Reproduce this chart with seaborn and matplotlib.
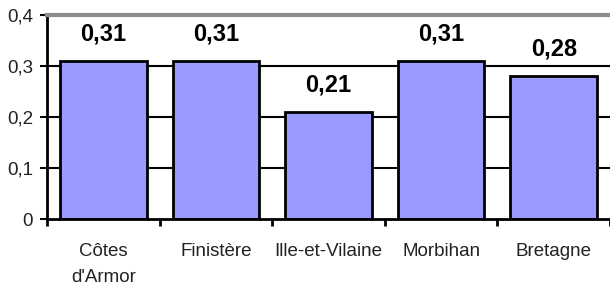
"""Bar chart of values by department, Bretagne."""

import matplotlib

matplotlib.use("Agg")

import matplotlib.pyplot as plt
import pandas as pd
import seaborn as sns
from matplotlib.ticker import FixedLocator, FuncFormatter, MultipleLocator

CATEGORIES = ["Côtes\nd'Armor", "Finistère", "Ille-et-Vilaine", "Morbihan", "Bretagne"]
VALUES = [0.31, 0.31, 0.21, 0.31, 0.28]
Y_TICKS = [0.0, 0.1, 0.2, 0.3, 0.4]


def comma(v, _pos=None):
    if v == 0:
        return "0"
    return f"{v:.1f}".replace(".", ",")


sns.set_style("white")
plt.rcParams["font.family"] = ["Liberation Sans", "DejaVu Sans"]
plt.rcParams["text.color"] = "black"
plt.rcParams["xtick.color"] = "black"
plt.rcParams["ytick.color"] = "black"

df = pd.DataFrame({"region": CATEGORIES, "value": VALUES})

fig = plt.figure(figsize=(6.1, 2.91), dpi=100)
ax = fig.add_axes([47 / 610, 72 / 291, 1 - 47 / 610, 204 / 291])

sns.barplot(
    data=df,
    x="region",
    y="value",
    ax=ax,
    color="#9999FF",
    saturation=1,
    edgecolor="black",
    linewidth=2,
    width=0.77,
    zorder=3,
)

ax.set_ylim(0, 0.4)
ax.set_xlim(-0.5, len(CATEGORIES) - 0.5)
ax.yaxis.set_major_locator(FixedLocator(Y_TICKS))
ax.yaxis.set_major_formatter(FuncFormatter(comma))

# horizontal grid, black, behind the bars
for y in Y_TICKS[1:-1]:
    ax.axhline(y, color="black", linewidth=1.5, zorder=1)

ax.spines["right"].set_visible(False)
ax.spines["top"].set_color("#8c8c8c")
ax.spines["top"].set_linewidth(3)
ax.spines["left"].set_linewidth(2)
ax.spines["left"].set_color("black")
ax.spines["bottom"].set_linewidth(2)
ax.spines["bottom"].set_color("black")
ax.spines["bottom"].set_zorder(4)

# ticks between categories, labels centred
ax.xaxis.set_minor_locator(MultipleLocator(1, offset=0.5))
ax.tick_params(axis="x", which="major", length=0, pad=17, labelsize=13.5, labelcolor="#222222")
ax.tick_params(axis="x", which="minor", bottom=True, length=5, width=2, color="black")
ax.tick_params(axis="y", left=True, length=5, width=1.5, color="black", pad=5,
               labelsize=13.5, labelcolor="#222222")
for lbl in ax.get_xticklabels():
    lbl.set_linespacing(1.7)

ax.set_xlabel("")
ax.set_ylabel("")

ax.bar_label(
    ax.containers[0],
    labels=[f"{v:.2f}".replace(".", ",") for v in VALUES],
    padding=11,
    fontsize=17,
    fontweight="bold",
    color="black",
)

fig.savefig("out.png", dpi=100)
plt.close(fig)
